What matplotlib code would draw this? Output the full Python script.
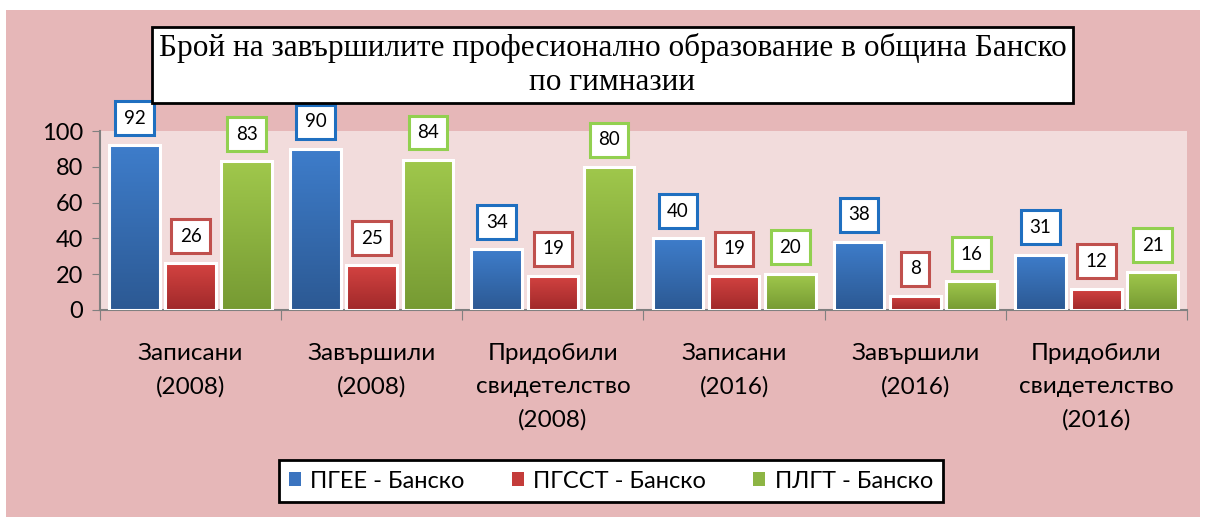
import matplotlib
matplotlib.use("Agg")
import matplotlib.pyplot as plt
import numpy as np
from matplotlib.patches import Rectangle
from matplotlib.colors import LinearSegmentedColormap

categories = ["Записани\n(2008)", "Завършили\n(2008)", "Придобили\nсвидетелство\n(2008)",
              "Записани\n(2016)", "Завършили\n(2016)", "Придобили\nсвидетелство\n(2016)"]
series_names = ["ПГЕЕ - Банско", "ПГССТ - Банско", "ПЛГТ - Банско"]
pgee = [92, 90, 34, 40, 38, 31]
pgsst = [26, 25, 19, 19, 8, 12]
plgt = [83, 84, 80, 20, 16, 21]
title = "Брой на завършилите професионално образование в община Банско\nпо гимназии"

colors = ["#3B74BF", "#C43C3A", "#8DB544"]
grad = [("#3E7DCB", "#2C5993"), ("#D44341", "#A0292A"), ("#A0C84C", "#769A33")]
edge_colors = ["#1F6FC0", "#C0504D", "#92D050"]

plt.rcParams['font.family'] = ['Lato', 'DejaVu Sans']

fig = plt.figure(figsize=(12.06, 5.17), dpi=100)
fig.patch.set_facecolor("white")
fig.add_artist(Rectangle((6/1206, 0), 1194/1206, 1 - 10/517, transform=fig.transFigure,
                         facecolor="#E6B7B8", edgecolor="none", zorder=0))

ax = fig.add_axes([100/1206, 1 - 310/517, 1087/1206, 179/517])
ax.set_facecolor("#F2DCDC")
ax.set_zorder(1)

x = np.arange(len(categories))
w = 0.28
allvals = [pgee, pgsst, plgt]
gradimg = np.linspace(1, 0, 256).reshape(-1, 1)
for i, vals in enumerate(allvals):
    pos = x + (i - 1) * (w + 0.03)
    bars = ax.bar(pos, vals, width=w, color=colors[i], edgecolor="white", linewidth=2.2, zorder=3)
    cmap = LinearSegmentedColormap.from_list("g%d" % i, [grad[i][1], grad[i][0]])
    for b in bars:
        bx, by = b.get_x(), b.get_y()
        bw, bh = b.get_width(), b.get_height()
        im = ax.imshow(gradimg, cmap=cmap, extent=(bx, bx + bw, by, by + bh),
                       aspect="auto", zorder=3.5, vmin=0, vmax=1, origin="upper")
        im.set_clip_path(b)
        b2 = Rectangle((bx, by), bw, bh, facecolor="none", edgecolor="white", linewidth=2.2, zorder=3.6)
        ax.add_patch(b2)
    for px, v in zip(pos, vals):
        ax.annotate(str(v), (px, v), xytext=(0, 19.5), textcoords="offset points",
                    ha="center", va="center", fontsize=13.5, zorder=5,
                    bbox=dict(boxstyle="square,pad=0.45", facecolor="white",
                              edgecolor=edge_colors[i], linewidth=2.2))

ax.set_xlim(-0.5, len(categories) - 0.5)
ax.set_ylim(0, 100)
ax.set_yticks([0, 20, 40, 60, 80, 100])
ax.tick_params(axis="y", labelsize=17, length=6, color="#808080", pad=6)
ax.set_xticks(np.arange(-0.5, len(categories), 1.0))
ax.set_xticklabels([])
ax.set_xticks(x, minor=True)
ax.set_xticklabels(categories, minor=True, fontsize=17.5, linespacing=1.68)
ax.tick_params(axis="x", which="major", length=7, color="#808080", direction="out")
ax.tick_params(axis="x", which="minor", length=0, pad=24)
for s in ["top", "right"]:
    ax.spines[s].set_visible(False)
for s in ["left", "bottom"]:
    ax.spines[s].set_color("#808080")
    ax.spines[s].set_linewidth(1.5)

fig.text((147 + 1078) / 2 / 1206, 1 - 65 / 517, title, ha="center", va="center",
         fontsize=22.5, family=["Liberation Serif", "DejaVu Serif"], linespacing=1.2, zorder=6,
         bbox=dict(boxstyle="square,pad=0.2", facecolor="white", edgecolor="black", linewidth=2))

handles = [Rectangle((0, 0), 1, 1, facecolor=c, edgecolor="none") for c in colors]
leg = fig.legend(handles, series_names, loc="center", bbox_to_anchor=(611/1206, 1 - 481/517),
                 ncol=3, fontsize=17, frameon=True, fancybox=False, handlelength=0.5,
                 handleheight=0.5, columnspacing=2.0, handletextpad=0.4,
                 borderpad=0.45, borderaxespad=0, framealpha=1)
leg.get_frame().set_edgecolor("black")
leg.get_frame().set_facecolor("white")
leg.get_frame().set_linewidth(2)
leg.set_zorder(6)

fig.savefig("out.png", dpi=100, facecolor="white")
